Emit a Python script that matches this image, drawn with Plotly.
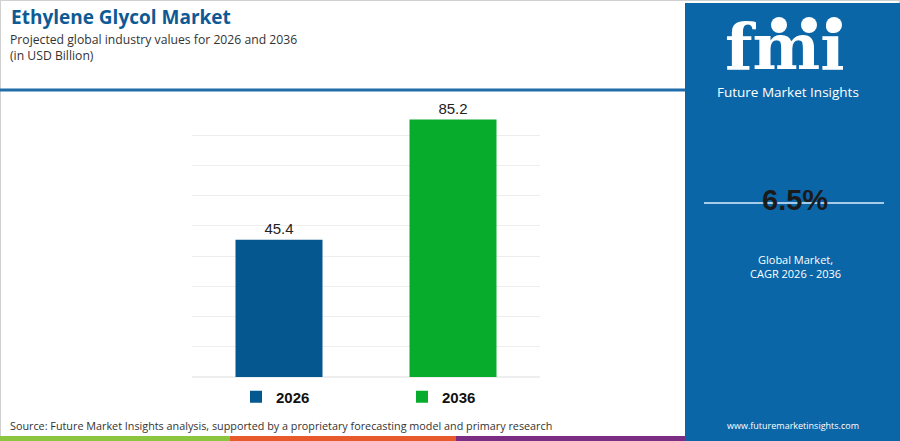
import plotly.graph_objects as go

# chart data
years = ["2026", "2036"]
values = [45.4, 85.2]
bar_colors = ["#04588F", "#08AC2C"]

cagr_text = "6.5%"
title_text = "Ethylene Glycol Market"
subtitle_text = "Projected global industry values for 2026 and 2036<br>(in USD Billion)"
source_text = "Source: Future Market Insights analysis, supported by a proprietary forecasting model and primary research"

W, H = 900, 441
PANEL = "#0B66A8"


def px(x):
    return x / W


def py(y):
    return 1 - y / H


fig = go.Figure()
for yr, val, col in zip(years, values, bar_colors):
    fig.add_trace(go.Bar(
        x=[yr], y=[val], name=yr, width=0.5,
        marker=dict(color=col, line=dict(width=0)),
        text=[f"{val:.1f}"], textposition="outside", cliponaxis=False,
        textfont=dict(family="Liberation Sans, Arial", size=15, color="#222222"),
    ))

fig.update_layout(
    width=W, height=H,
    margin=dict(l=0, r=0, t=0, b=0),
    paper_bgcolor="white", plot_bgcolor="white",
    barmode="overlay",
    showlegend=True,
    legend=dict(orientation="h", x=px(236), y=py(397), yanchor="middle", xanchor="left",
                entrywidth=121, itemwidth=30,
                font=dict(family="Liberation Sans, Arial", size=15, color="#111111", weight="bold"),
                bgcolor="rgba(0,0,0,0)"),
    xaxis=dict(domain=[px(192), px(540)], range=[-0.5, 1.5], showticklabels=False,
               showgrid=False, zeroline=False, showline=False, ticks=""),
    yaxis=dict(domain=[py(377), py(105)], range=[0, 90], dtick=10, showticklabels=False,
               showgrid=True, gridcolor="#EEEEEE", gridwidth=1, zeroline=True,
               zerolinecolor="#EEEEEE", showline=False, ticks=""),
)

shapes = [
    # outer border
    dict(type="rect", xref="paper", yref="paper", x0=0, x1=1, y0=0, y1=1,
         line=dict(color="#D0D0D0", width=2), fillcolor="rgba(0,0,0,0)", layer="below"),
    # header separator
    dict(type="line", xref="paper", yref="paper", x0=0, x1=px(685), y0=py(90), y1=py(90),
         line=dict(color="#1F6DAA", width=3)),
    # right panel
    dict(type="rect", xref="paper", yref="paper", x0=px(685), x1=1, y0=0, y1=py(3),
         fillcolor=PANEL, line=dict(width=0), layer="below"),
    # cagr line
    dict(type="line", xref="paper", yref="paper", x0=px(704), x1=px(884), y0=py(203), y1=py(203),
         line=dict(color="#A9CBEA", width=2)),
    # bottom stripes
    dict(type="rect", xref="paper", yref="paper", x0=0, x1=px(230), y0=0, y1=py(436),
         fillcolor="#8CC63F", line=dict(width=0)),
    dict(type="rect", xref="paper", yref="paper", x0=px(230), x1=px(456), y0=0, y1=py(436),
         fillcolor="#E8592B", line=dict(width=0)),
    dict(type="rect", xref="paper", yref="paper", x0=px(456), x1=px(685), y0=0, y1=py(436),
         fillcolor="#7B2C83", line=dict(width=0)),
]
# logo globes
for cx in [779, 809, 834]:
    shapes.append(dict(type="circle", xref="paper", yref="paper",
                       x0=px(cx - 8), x1=px(cx + 8), y0=py(33), y1=py(17),
                       fillcolor="white", line=dict(width=0)))
fig.update_layout(shapes=shapes)

ann = [
    dict(text=f"<b>{title_text}</b>", x=px(9), y=py(17), xanchor="left", yanchor="middle",
         font=dict(family="Open Sans, Arial", size=19, color="#0E5A94")),
    dict(text=subtitle_text, x=px(8), y=py(29), xanchor="left", yanchor="top", align="left",
         font=dict(family="Open Sans, Arial", size=12.2, color="#333333")),
    dict(text=source_text, x=px(8), y=py(425), xanchor="left", yanchor="middle",
         font=dict(family="Open Sans, Arial", size=10.8, color="#333333")),
    dict(text="<b>fmi</b>", x=px(785), y=py(47), xanchor="center", yanchor="middle",
         font=dict(family="DejaVu Serif, serif", size=64, color="white")),
    dict(text="Future Market Insights", x=px(788), y=py(92), xanchor="center", yanchor="middle",
         font=dict(family="Open Sans, Arial", size=13.5, color="white")),
    dict(text=f"<b>{cagr_text}</b>", x=px(795), y=py(200), xanchor="center", yanchor="middle",
         font=dict(family="Liberation Sans, Arial", size=29, color="#1A1A1A")),
    dict(text="Global Market,<br>CAGR 2026 - 2036", x=px(795), y=py(266), xanchor="center",
         yanchor="middle", font=dict(family="Open Sans, Arial", size=11, color="white")),
    dict(text="www.futuremarketinsights.com", x=px(793), y=py(425), xanchor="center",
         yanchor="middle", font=dict(family="Open Sans, Arial", size=9, color="white")),
]
for a in ann:
    a.update(xref="paper", yref="paper", showarrow=False)
fig.update_layout(annotations=ann)

fig.write_html("out.html", config={"displayModeBar": False},
               post_script="document.body.style.margin='0';")
